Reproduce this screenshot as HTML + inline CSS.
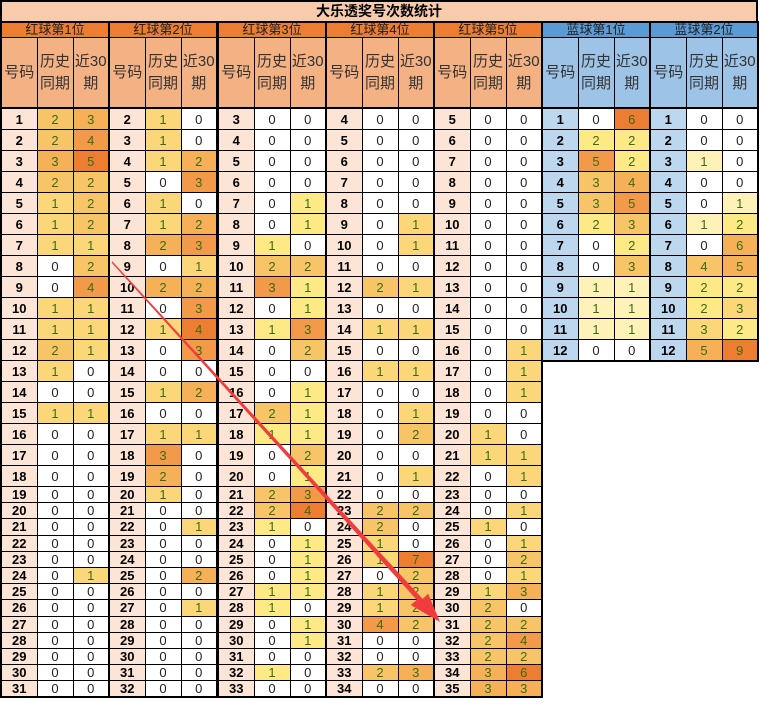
<!DOCTYPE html>
<html><head><meta charset="utf-8">
<style>
body{margin:0;width:765px;height:707px;background:#fff;position:relative;overflow:hidden;font-family:"Liberation Sans","Noto Sans CJK SC",sans-serif}
#title{position:absolute;left:0;top:0;width:754px;height:19px;background:#f8cbad;border:2px solid #000;text-align:center;font-weight:bold;font-size:14px;line-height:19px;color:#000}
table.g{position:absolute;top:21px;width:109px;border-collapse:collapse;table-layout:fixed;border:2px solid #000}
table.g td{border:1px solid #000;text-align:center;padding:0;font-size:13px;color:#222;overflow:hidden;white-space:nowrap}
table.g tr.h td{height:14px;background:#ed7d31;font-size:13px;color:#222;line-height:14px}
table.g tr.s td{height:69px;background:#f4b183;font-size:15px;line-height:22px;white-space:normal;color:#333}
table.g tr.s td.w{border-bottom:2px solid #000}
table.b tr.h td{background:#5b9bd5}
table.b tr.s td{background:#9dc3e6}
table.g td.n{background:#fce4d6;font-weight:bold;color:#000}
table.b td.n{background:#bdd7ee}
tr.r td{height:20px}
tr.t td{height:15.2px;line-height:15px}
td[class^=a]{color:#3d6b12!important}
.G1 .a1{background:#fbd77a}.G1 .a2{background:#f8c468}.G1 .a3{background:#f5b058}.G1 .a4{background:#f29a4a}.G1 .a5{background:#ed7d31}
.G2 .a1{background:#fbd77a}.G2 .a2{background:#f5b058}.G2 .a3{background:#f29a4a}.G2 .a4{background:#ed7d31}
.G3 .a1{background:#fde985}.G3 .a2{background:#f8c468}.G3 .a3{background:#f29a4a}.G3 .a4{background:#ed7d31}
.G4 .a1{background:#fbd77a}.G4 .a2{background:#f8c468}.G4 .a4{background:#f29a4a}.G4 .a7{background:#ed7d31}
.G5 .a1{background:#fbd77a}.G5 .a2{background:#f8c468}.G5 .a3{background:#f5b058}.G5 .a4{background:#f29a4a}.G5 .a6{background:#ed7d31}
.B1 .a1{background:#fff2b8}.B1 .a2{background:#fde985}.B1 .a3{background:#f8c468}.B1 .a4{background:#f5b058}.B1 .a5{background:#f29a4a}.B1 .a6{background:#ed7d31}
.B2 .a1{background:#fff2b8}.B2 .a2{background:#fde985}.B2 .a3{background:#fbd77a}.B2 .a4{background:#f8c468}.B2 .a5{background:#f5b058}.B2 .a6{background:#f5b058}.B2 .a9{background:#ed7d31}
</style></head><body>
<div id="title">大乐透奖号次数统计</div>

<table class="g G1" style="left:0"><colgroup><col style="width:36px"><col style="width:36px"><col style="width:36px"></colgroup>
<tr class="h"><td colspan="3">红球第1位</td></tr>
<tr class="s"><td class="w">号码</td><td class="w">历史<br>同期</td><td class="w">近30<br>期</td></tr>
<tr class="r"><td class="n">1</td><td class="a2">2</td><td class="a3">3</td></tr>
<tr class="r"><td class="n">2</td><td class="a2">2</td><td class="a4">4</td></tr>
<tr class="r"><td class="n">3</td><td class="a3">3</td><td class="a5">5</td></tr>
<tr class="r"><td class="n">4</td><td class="a2">2</td><td class="a2">2</td></tr>
<tr class="r"><td class="n">5</td><td class="a1">1</td><td class="a2">2</td></tr>
<tr class="r"><td class="n">6</td><td class="a1">1</td><td class="a2">2</td></tr>
<tr class="r"><td class="n">7</td><td class="a1">1</td><td class="a1">1</td></tr>
<tr class="r"><td class="n">8</td><td>0</td><td class="a2">2</td></tr>
<tr class="r"><td class="n">9</td><td>0</td><td class="a4">4</td></tr>
<tr class="r"><td class="n">10</td><td class="a1">1</td><td class="a1">1</td></tr>
<tr class="r"><td class="n">11</td><td class="a1">1</td><td class="a1">1</td></tr>
<tr class="r"><td class="n">12</td><td class="a2">2</td><td class="a1">1</td></tr>
<tr class="r"><td class="n">13</td><td class="a1">1</td><td>0</td></tr>
<tr class="r"><td class="n">14</td><td>0</td><td>0</td></tr>
<tr class="r"><td class="n">15</td><td class="a1">1</td><td class="a1">1</td></tr>
<tr class="r"><td class="n">16</td><td>0</td><td>0</td></tr>
<tr class="r"><td class="n">17</td><td>0</td><td>0</td></tr>
<tr class="r"><td class="n">18</td><td>0</td><td>0</td></tr>
<tr class="t"><td class="n">19</td><td>0</td><td>0</td></tr>
<tr class="t"><td class="n">20</td><td>0</td><td>0</td></tr>
<tr class="t"><td class="n">21</td><td>0</td><td>0</td></tr>
<tr class="t"><td class="n">22</td><td>0</td><td>0</td></tr>
<tr class="t"><td class="n">23</td><td>0</td><td>0</td></tr>
<tr class="t"><td class="n">24</td><td>0</td><td class="a1">1</td></tr>
<tr class="t"><td class="n">25</td><td>0</td><td>0</td></tr>
<tr class="t"><td class="n">26</td><td>0</td><td>0</td></tr>
<tr class="t"><td class="n">27</td><td>0</td><td>0</td></tr>
<tr class="t"><td class="n">28</td><td>0</td><td>0</td></tr>
<tr class="t"><td class="n">29</td><td>0</td><td>0</td></tr>
<tr class="t"><td class="n">30</td><td>0</td><td>0</td></tr>
<tr class="t"><td class="n">31</td><td>0</td><td>0</td></tr>
</table>

<table class="g G2" style="left:108px"><colgroup><col style="width:36px"><col style="width:36px"><col style="width:36px"></colgroup>
<tr class="h"><td colspan="3">红球第2位</td></tr>
<tr class="s"><td class="w">号码</td><td class="w">历史<br>同期</td><td class="w">近30<br>期</td></tr>
<tr class="r"><td class="n">2</td><td class="a1">1</td><td>0</td></tr>
<tr class="r"><td class="n">3</td><td class="a1">1</td><td>0</td></tr>
<tr class="r"><td class="n">4</td><td class="a1">1</td><td class="a2">2</td></tr>
<tr class="r"><td class="n">5</td><td>0</td><td class="a3">3</td></tr>
<tr class="r"><td class="n">6</td><td class="a1">1</td><td>0</td></tr>
<tr class="r"><td class="n">7</td><td class="a1">1</td><td class="a2">2</td></tr>
<tr class="r"><td class="n">8</td><td class="a2">2</td><td class="a3">3</td></tr>
<tr class="r"><td class="n">9</td><td>0</td><td class="a1">1</td></tr>
<tr class="r"><td class="n">10</td><td class="a2">2</td><td class="a2">2</td></tr>
<tr class="r"><td class="n">11</td><td>0</td><td class="a3">3</td></tr>
<tr class="r"><td class="n">12</td><td class="a1">1</td><td class="a4">4</td></tr>
<tr class="r"><td class="n">13</td><td>0</td><td class="a3">3</td></tr>
<tr class="r"><td class="n">14</td><td>0</td><td>0</td></tr>
<tr class="r"><td class="n">15</td><td class="a1">1</td><td class="a2">2</td></tr>
<tr class="r"><td class="n">16</td><td>0</td><td>0</td></tr>
<tr class="r"><td class="n">17</td><td class="a1">1</td><td class="a1">1</td></tr>
<tr class="r"><td class="n">18</td><td class="a3">3</td><td>0</td></tr>
<tr class="r"><td class="n">19</td><td class="a2">2</td><td>0</td></tr>
<tr class="t"><td class="n">20</td><td class="a1">1</td><td>0</td></tr>
<tr class="t"><td class="n">21</td><td>0</td><td>0</td></tr>
<tr class="t"><td class="n">22</td><td>0</td><td class="a1">1</td></tr>
<tr class="t"><td class="n">23</td><td>0</td><td>0</td></tr>
<tr class="t"><td class="n">24</td><td>0</td><td>0</td></tr>
<tr class="t"><td class="n">25</td><td>0</td><td class="a2">2</td></tr>
<tr class="t"><td class="n">26</td><td>0</td><td>0</td></tr>
<tr class="t"><td class="n">27</td><td>0</td><td class="a1">1</td></tr>
<tr class="t"><td class="n">28</td><td>0</td><td>0</td></tr>
<tr class="t"><td class="n">29</td><td>0</td><td>0</td></tr>
<tr class="t"><td class="n">30</td><td>0</td><td>0</td></tr>
<tr class="t"><td class="n">31</td><td>0</td><td>0</td></tr>
<tr class="t"><td class="n">32</td><td>0</td><td>0</td></tr>
</table>

<table class="g G3" style="left:217px"><colgroup><col style="width:36px"><col style="width:36px"><col style="width:36px"></colgroup>
<tr class="h"><td colspan="3">红球第3位</td></tr>
<tr class="s"><td class="w">号码</td><td class="w">历史<br>同期</td><td class="w">近30<br>期</td></tr>
<tr class="r"><td class="n">3</td><td>0</td><td>0</td></tr>
<tr class="r"><td class="n">4</td><td>0</td><td>0</td></tr>
<tr class="r"><td class="n">5</td><td>0</td><td>0</td></tr>
<tr class="r"><td class="n">6</td><td>0</td><td>0</td></tr>
<tr class="r"><td class="n">7</td><td>0</td><td class="a1">1</td></tr>
<tr class="r"><td class="n">8</td><td>0</td><td class="a1">1</td></tr>
<tr class="r"><td class="n">9</td><td class="a1">1</td><td>0</td></tr>
<tr class="r"><td class="n">10</td><td class="a2">2</td><td class="a2">2</td></tr>
<tr class="r"><td class="n">11</td><td class="a3">3</td><td class="a1">1</td></tr>
<tr class="r"><td class="n">12</td><td>0</td><td class="a1">1</td></tr>
<tr class="r"><td class="n">13</td><td class="a1">1</td><td class="a3">3</td></tr>
<tr class="r"><td class="n">14</td><td>0</td><td class="a2">2</td></tr>
<tr class="r"><td class="n">15</td><td>0</td><td>0</td></tr>
<tr class="r"><td class="n">16</td><td>0</td><td class="a1">1</td></tr>
<tr class="r"><td class="n">17</td><td class="a2">2</td><td class="a1">1</td></tr>
<tr class="r"><td class="n">18</td><td class="a1">1</td><td class="a1">1</td></tr>
<tr class="r"><td class="n">19</td><td>0</td><td class="a2">2</td></tr>
<tr class="r"><td class="n">20</td><td>0</td><td class="a1">1</td></tr>
<tr class="t"><td class="n">21</td><td class="a2">2</td><td class="a3">3</td></tr>
<tr class="t"><td class="n">22</td><td class="a2">2</td><td class="a4">4</td></tr>
<tr class="t"><td class="n">23</td><td class="a1">1</td><td>0</td></tr>
<tr class="t"><td class="n">24</td><td>0</td><td class="a1">1</td></tr>
<tr class="t"><td class="n">25</td><td>0</td><td class="a1">1</td></tr>
<tr class="t"><td class="n">26</td><td>0</td><td class="a1">1</td></tr>
<tr class="t"><td class="n">27</td><td class="a1">1</td><td class="a1">1</td></tr>
<tr class="t"><td class="n">28</td><td class="a1">1</td><td>0</td></tr>
<tr class="t"><td class="n">29</td><td>0</td><td class="a1">1</td></tr>
<tr class="t"><td class="n">30</td><td>0</td><td class="a1">1</td></tr>
<tr class="t"><td class="n">31</td><td>0</td><td>0</td></tr>
<tr class="t"><td class="n">32</td><td class="a1">1</td><td>0</td></tr>
<tr class="t"><td class="n">33</td><td>0</td><td>0</td></tr>
</table>

<table class="g G4" style="left:325px"><colgroup><col style="width:36px"><col style="width:36px"><col style="width:36px"></colgroup>
<tr class="h"><td colspan="3">红球第4位</td></tr>
<tr class="s"><td class="w">号码</td><td class="w">历史<br>同期</td><td class="w">近30<br>期</td></tr>
<tr class="r"><td class="n">4</td><td>0</td><td>0</td></tr>
<tr class="r"><td class="n">5</td><td>0</td><td>0</td></tr>
<tr class="r"><td class="n">6</td><td>0</td><td>0</td></tr>
<tr class="r"><td class="n">7</td><td>0</td><td>0</td></tr>
<tr class="r"><td class="n">8</td><td>0</td><td>0</td></tr>
<tr class="r"><td class="n">9</td><td>0</td><td class="a1">1</td></tr>
<tr class="r"><td class="n">10</td><td>0</td><td class="a1">1</td></tr>
<tr class="r"><td class="n">11</td><td>0</td><td>0</td></tr>
<tr class="r"><td class="n">12</td><td class="a2">2</td><td class="a1">1</td></tr>
<tr class="r"><td class="n">13</td><td>0</td><td>0</td></tr>
<tr class="r"><td class="n">14</td><td class="a1">1</td><td class="a1">1</td></tr>
<tr class="r"><td class="n">15</td><td>0</td><td>0</td></tr>
<tr class="r"><td class="n">16</td><td class="a1">1</td><td class="a1">1</td></tr>
<tr class="r"><td class="n">17</td><td>0</td><td>0</td></tr>
<tr class="r"><td class="n">18</td><td>0</td><td class="a1">1</td></tr>
<tr class="r"><td class="n">19</td><td>0</td><td class="a2">2</td></tr>
<tr class="r"><td class="n">20</td><td>0</td><td>0</td></tr>
<tr class="r"><td class="n">21</td><td>0</td><td class="a1">1</td></tr>
<tr class="t"><td class="n">22</td><td>0</td><td>0</td></tr>
<tr class="t"><td class="n">23</td><td class="a2">2</td><td class="a2">2</td></tr>
<tr class="t"><td class="n">24</td><td class="a2">2</td><td>0</td></tr>
<tr class="t"><td class="n">25</td><td class="a1">1</td><td>0</td></tr>
<tr class="t"><td class="n">26</td><td class="a1">1</td><td class="a7">7</td></tr>
<tr class="t"><td class="n">27</td><td>0</td><td class="a2">2</td></tr>
<tr class="t"><td class="n">28</td><td class="a1">1</td><td class="a2">2</td></tr>
<tr class="t"><td class="n">29</td><td class="a1">1</td><td class="a2">2</td></tr>
<tr class="t"><td class="n">30</td><td class="a4">4</td><td class="a2">2</td></tr>
<tr class="t"><td class="n">31</td><td>0</td><td>0</td></tr>
<tr class="t"><td class="n">32</td><td>0</td><td>0</td></tr>
<tr class="t"><td class="n">33</td><td class="a2">2</td><td class="a3" style="background:#f5b058">3</td></tr>
<tr class="t"><td class="n">34</td><td>0</td><td>0</td></tr>
</table>

<table class="g G5" style="left:433px"><colgroup><col style="width:36px"><col style="width:36px"><col style="width:36px"></colgroup>
<tr class="h"><td colspan="3">红球第5位</td></tr>
<tr class="s"><td class="w">号码</td><td class="w">历史<br>同期</td><td class="w">近30<br>期</td></tr>
<tr class="r"><td class="n">5</td><td>0</td><td>0</td></tr>
<tr class="r"><td class="n">6</td><td>0</td><td>0</td></tr>
<tr class="r"><td class="n">7</td><td>0</td><td>0</td></tr>
<tr class="r"><td class="n">8</td><td>0</td><td>0</td></tr>
<tr class="r"><td class="n">9</td><td>0</td><td>0</td></tr>
<tr class="r"><td class="n">10</td><td>0</td><td>0</td></tr>
<tr class="r"><td class="n">11</td><td>0</td><td>0</td></tr>
<tr class="r"><td class="n">12</td><td>0</td><td>0</td></tr>
<tr class="r"><td class="n">13</td><td>0</td><td>0</td></tr>
<tr class="r"><td class="n">14</td><td>0</td><td>0</td></tr>
<tr class="r"><td class="n">15</td><td>0</td><td>0</td></tr>
<tr class="r"><td class="n">16</td><td>0</td><td class="a1">1</td></tr>
<tr class="r"><td class="n">17</td><td>0</td><td class="a1">1</td></tr>
<tr class="r"><td class="n">18</td><td>0</td><td class="a1">1</td></tr>
<tr class="r"><td class="n">19</td><td>0</td><td>0</td></tr>
<tr class="r"><td class="n">20</td><td class="a1">1</td><td>0</td></tr>
<tr class="r"><td class="n">21</td><td class="a1">1</td><td class="a1">1</td></tr>
<tr class="r"><td class="n">22</td><td>0</td><td class="a1">1</td></tr>
<tr class="t"><td class="n">23</td><td>0</td><td>0</td></tr>
<tr class="t"><td class="n">24</td><td>0</td><td class="a1">1</td></tr>
<tr class="t"><td class="n">25</td><td class="a1">1</td><td>0</td></tr>
<tr class="t"><td class="n">26</td><td>0</td><td class="a1">1</td></tr>
<tr class="t"><td class="n">27</td><td>0</td><td class="a2">2</td></tr>
<tr class="t"><td class="n">28</td><td>0</td><td class="a1">1</td></tr>
<tr class="t"><td class="n">29</td><td class="a1">1</td><td class="a3">3</td></tr>
<tr class="t"><td class="n">30</td><td class="a2">2</td><td>0</td></tr>
<tr class="t"><td class="n">31</td><td class="a2">2</td><td class="a2">2</td></tr>
<tr class="t"><td class="n">32</td><td class="a2">2</td><td class="a4">4</td></tr>
<tr class="t"><td class="n">33</td><td class="a2">2</td><td class="a2">2</td></tr>
<tr class="t"><td class="n">34</td><td class="a3">3</td><td class="a6">6</td></tr>
<tr class="t"><td class="n">35</td><td class="a3">3</td><td class="a3">3</td></tr>
</table>

<table class="g b B1" style="left:541px"><colgroup><col style="width:36px"><col style="width:36px"><col style="width:36px"></colgroup>
<tr class="h"><td colspan="3">蓝球第1位</td></tr>
<tr class="s"><td class="w">号码</td><td class="w">历史<br>同期</td><td class="w">近30<br>期</td></tr>
<tr class="r"><td class="n">1</td><td>0</td><td class="a6">6</td></tr>
<tr class="r"><td class="n">2</td><td class="a2">2</td><td class="a2">2</td></tr>
<tr class="r"><td class="n">3</td><td class="a5">5</td><td class="a2">2</td></tr>
<tr class="r"><td class="n">4</td><td class="a3">3</td><td class="a4">4</td></tr>
<tr class="r"><td class="n">5</td><td class="a3">3</td><td class="a5">5</td></tr>
<tr class="r"><td class="n">6</td><td class="a2">2</td><td class="a3">3</td></tr>
<tr class="r"><td class="n">7</td><td>0</td><td class="a2">2</td></tr>
<tr class="r"><td class="n">8</td><td>0</td><td class="a3">3</td></tr>
<tr class="r"><td class="n">9</td><td class="a1">1</td><td class="a1">1</td></tr>
<tr class="r"><td class="n">10</td><td class="a1">1</td><td class="a1">1</td></tr>
<tr class="r"><td class="n">11</td><td class="a1">1</td><td class="a1">1</td></tr>
<tr class="r"><td class="n">12</td><td>0</td><td>0</td></tr>
</table>

<table class="g b B2" style="left:649px"><colgroup><col style="width:36px"><col style="width:36px"><col style="width:36px"></colgroup>
<tr class="h"><td colspan="3">蓝球第2位</td></tr>
<tr class="s"><td class="w">号码</td><td class="w">历史<br>同期</td><td class="w">近30<br>期</td></tr>
<tr class="r"><td class="n">1</td><td>0</td><td>0</td></tr>
<tr class="r"><td class="n">2</td><td>0</td><td>0</td></tr>
<tr class="r"><td class="n">3</td><td class="a1">1</td><td>0</td></tr>
<tr class="r"><td class="n">4</td><td>0</td><td>0</td></tr>
<tr class="r"><td class="n">5</td><td>0</td><td class="a1">1</td></tr>
<tr class="r"><td class="n">6</td><td class="a1">1</td><td class="a2">2</td></tr>
<tr class="r"><td class="n">7</td><td>0</td><td class="a6">6</td></tr>
<tr class="r"><td class="n">8</td><td class="a4">4</td><td class="a5">5</td></tr>
<tr class="r"><td class="n">9</td><td class="a2">2</td><td class="a2">2</td></tr>
<tr class="r"><td class="n">10</td><td class="a2">2</td><td class="a3">3</td></tr>
<tr class="r"><td class="n">11</td><td class="a3">3</td><td class="a2">2</td></tr>
<tr class="r"><td class="n">12</td><td class="a5">5</td><td class="a9">9</td></tr>
</table>

<svg width="765" height="707" style="position:absolute;left:0;top:0;pointer-events:none">
<polygon points="111.5,262.5 112.5,261.5 422.6,598.9 428.2,593.8 440,622 410.7,605 416.8,599.9" fill="#f03c3c"/>
</svg>
</body></html>
